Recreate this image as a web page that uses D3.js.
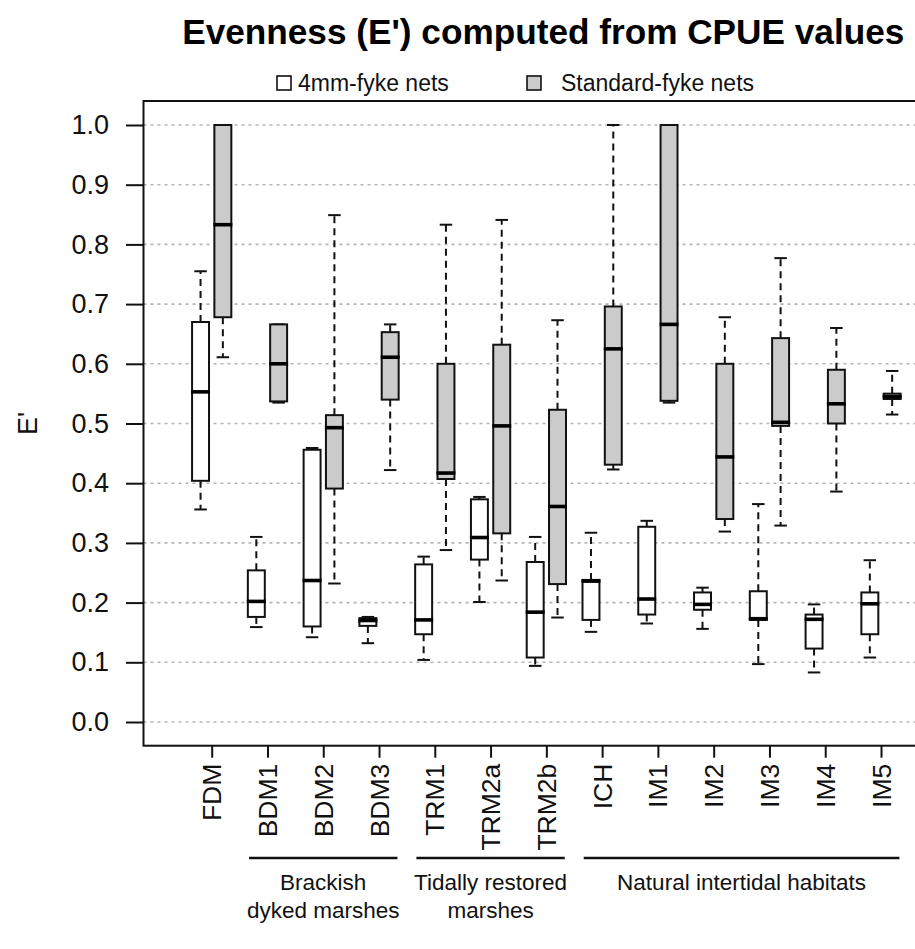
<!DOCTYPE html>
<html>
<head>
<meta charset="utf-8">
<script src="https://cdn.jsdelivr.net/npm/d3@7"></script>
<style>
  html, body { margin: 0; padding: 0; background: #fff; }
  svg { display: block; font-family: "Liberation Sans", Arial, Helvetica, sans-serif; }
</style>
</head>
<body>
<svg id="chart" width="915" height="949"></svg>
<script>
// Sampling sites, left to right
const sites = ["FDM", "BDM1", "BDM2", "BDM3", "TRM1", "TRM2a", "TRM2b",
               "ICH", "IM1", "IM2", "IM3", "IM4", "IM5"];

// Five-number summaries per site: [lower whisker, Q1, median, Q3, upper whisker]
const fyke4mm = [
  [0.356, 0.404, 0.553, 0.670, 0.755],
  [0.159, 0.176, 0.202, 0.254, 0.310],
  [0.142, 0.160, 0.237, 0.456, 0.459],
  [0.132, 0.161, 0.170, 0.174, 0.176],
  [0.104, 0.147, 0.171, 0.264, 0.277],
  [0.201, 0.272, 0.309, 0.373, 0.377],
  [0.094, 0.108, 0.184, 0.268, 0.310],
  [0.151, 0.171, 0.236, 0.238, 0.317],
  [0.165, 0.180, 0.206, 0.327, 0.337],
  [0.156, 0.188, 0.197, 0.217, 0.225],
  [0.097, 0.171, 0.173, 0.219, 0.365],
  [0.083, 0.123, 0.172, 0.180, 0.197],
  [0.108, 0.147, 0.198, 0.217, 0.271]
];
const fykeStandard = [
  [0.611, 0.678, 0.833, 1.000, 1.000],
  [0.535, 0.537, 0.600, 0.666, 0.666],
  [0.232, 0.391, 0.493, 0.514, 0.849],
  [0.422, 0.540, 0.611, 0.653, 0.666],
  [0.288, 0.407, 0.417, 0.600, 0.833],
  [0.237, 0.316, 0.496, 0.632, 0.841],
  [0.175, 0.231, 0.361, 0.523, 0.673],
  [0.423, 0.431, 0.625, 0.696, 1.000],
  [0.535, 0.538, 0.666, 1.000, 1.000],
  [0.319, 0.340, 0.444, 0.600, 0.678],
  [0.329, 0.496, 0.502, 0.643, 0.777],
  [0.386, 0.500, 0.533, 0.590, 0.660],
  [0.515, 0.541, 0.545, 0.550, 0.588]
];

const seriesNames = ["4mm-fyke nets", "Standard-fyke nets"];
const seriesFill = ["#ffffff", "#cbcbcb"];
const yTicks = [0.0, 0.1, 0.2, 0.3, 0.4, 0.5, 0.6, 0.7, 0.8, 0.9, 1.0];

// Habitat groups spanning several sites
const groups = [
  { lines: ["Brackish", "dyked marshes"], from: "BDM1", to: "BDM3" },
  { lines: ["Tidally restored", "marshes"], from: "TRM1", to: "TRM2b" },
  { lines: ["Natural intertidal habitats"], from: "ICH", to: "IM5" }
];

const titleText = "Evenness (E') computed from CPUE values";
const yLabel = "E'";

// ---- layout ----
const svg = d3.select("#chart");
const frame = { left: 143.5, top: 101, bottom: 745.7, right: 943 };

// position scale in site units (site i sits at i)
const x = d3.scaleLinear().domain([0, 12]).range([211.7, 881]);
const y = d3.scaleLinear().domain([0, 1]).range([722, 125]);
const boxOffset = 0.2, boxHalf = 0.152, stapleHalf = 0.112;

// grid
svg.append("g").selectAll("line").data(yTicks).join("line")
  .attr("x1", frame.left).attr("x2", frame.right)
  .attr("y1", d => y(d)).attr("y2", d => y(d))
  .attr("stroke", "#b4b4b4").attr("stroke-width", 1.6)
  .attr("stroke-dasharray", "3,4");

// boxes
function drawSeries(data, k) {
  const shift = k === 0 ? -boxOffset : boxOffset;
  const g = svg.append("g");
  data.forEach((s, i) => {
    const cx = i + shift;
    const [lo, q1, med, q3, hi] = s;
    const wg = g.append("g");
    // whiskers and staples
    [[q3, hi], [q1, lo]].forEach(([a, b]) => {
      if (Math.abs(a - b) > 1e-9) {
        wg.append("line")
          .attr("x1", x(cx)).attr("x2", x(cx))
          .attr("y1", y(a)).attr("y2", y(b))
          .attr("stroke", "#111").attr("stroke-width", 2)
          .attr("stroke-dasharray", "7,5");
      }
      wg.append("line")
        .attr("x1", x(cx - stapleHalf)).attr("x2", x(cx + stapleHalf))
        .attr("y1", y(b)).attr("y2", y(b))
        .attr("stroke", "#111").attr("stroke-width", 2);
    });
    wg.append("rect")
      .attr("x", x(cx - boxHalf)).attr("width", x(cx + boxHalf) - x(cx - boxHalf))
      .attr("y", y(q3)).attr("height", y(q1) - y(q3))
      .attr("fill", seriesFill[k]).attr("stroke", "#111").attr("stroke-width", 2);
    wg.append("line")
      .attr("x1", x(cx - boxHalf) - 1).attr("x2", x(cx + boxHalf) + 1)
      .attr("y1", y(med)).attr("y2", y(med))
      .attr("stroke", "#000").attr("stroke-width", 3.6);
  });
}
drawSeries(fyke4mm, 0);
drawSeries(fykeStandard, 1);

// frame
svg.append("rect")
  .attr("x", frame.left).attr("y", frame.top)
  .attr("width", frame.right - frame.left).attr("height", frame.bottom - frame.top)
  .attr("fill", "none").attr("stroke", "#111").attr("stroke-width", 2);

// y axis
const yAxis = d3.axisLeft(y).tickValues(yTicks).tickFormat(d3.format(".1f"))
  .tickSize(17.5).tickPadding(17);
const ya = svg.append("g").attr("transform", `translate(${frame.left},0)`).call(yAxis);
ya.select(".domain").remove();
ya.selectAll(".tick line").attr("stroke", "#111").attr("stroke-width", 2);
ya.selectAll(".tick text").attr("font-size", 27).attr("fill", "#111")
  .attr("font-family", "'Liberation Sans', Arial, sans-serif");

// x axis
const xa = svg.append("g").attr("transform", `translate(0,${frame.bottom})`)
  .call(d3.axisBottom(x).tickValues(d3.range(sites.length)).tickSize(12).tickFormat(""));
xa.select(".domain").remove();
xa.selectAll(".tick line").attr("stroke", "#111").attr("stroke-width", 2);

svg.append("g").selectAll("text").data(sites).join("text")
  .attr("transform", (d, i) => `translate(${x(i) + 9.5},${frame.bottom + 18}) rotate(-90)`)
  .attr("text-anchor", "end")
  .attr("font-size", 26.5).attr("fill", "#111")
  .text(d => d);

// habitat group brackets
const gg = svg.append("g");
groups.forEach(gr => {
  const a = sites.indexOf(gr.from), b = sites.indexOf(gr.to);
  gg.append("line")
    .attr("x1", x(a - 0.33)).attr("x2", x(b + 0.33))
    .attr("y1", 858).attr("y2", 858)
    .attr("stroke", "#111").attr("stroke-width", 2.5);
  gr.lines.forEach((t, j) => {
    gg.append("text")
      .attr("x", x((a + b) / 2)).attr("y", 890 + j * 28)
      .attr("text-anchor", "middle").attr("font-size", 22.5).attr("fill", "#111")
      .text(t);
  });
});

// title
svg.append("text")
  .attr("x", (frame.left + frame.right) / 2).attr("y", 44)
  .attr("text-anchor", "middle").attr("font-size", 35.2).attr("font-weight", "bold")
  .attr("fill", "#000").text(titleText);

// y label
svg.append("text")
  .attr("transform", `translate(37,${(frame.top + frame.bottom) / 2}) rotate(-90)`)
  .attr("text-anchor", "middle").attr("font-size", 27).attr("fill", "#111")
  .text(yLabel);

// legend
const legendBoxX = [277, 527];
const legendTextX = [298, 561];
const lg = svg.append("g");
seriesNames.forEach((name, k) => {
  lg.append("rect").attr("x", legendBoxX[k]).attr("y", 76).attr("width", 14).attr("height", 14)
    .attr("fill", seriesFill[k]).attr("stroke", "#111").attr("stroke-width", 1.6);
  lg.append("text").attr("x", legendTextX[k]).attr("y", 91)
    .attr("font-size", 23).attr("fill", "#111").text(name);
});
</script>
</body>
</html>
